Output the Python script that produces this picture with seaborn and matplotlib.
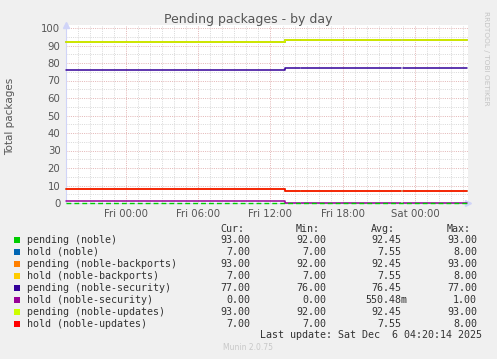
import numpy as np
import pandas as pd
import matplotlib
matplotlib.use("Agg")
import matplotlib.pyplot as plt
import seaborn as sns
from matplotlib.patches import Rectangle
from matplotlib.ticker import MultipleLocator

# hours relative to Fri 00:00 (breakpoints of the step series, NaN = gap)
hours = [-4.98, 13.18, 14.45, 14.55, 22.88, 22.98, 28.32]

labels = ["pending (noble)", "hold (noble)", "pending (noble-backports)",
          "hold (noble-backports)", "pending (noble-security)",
          "hold (noble-security)", "pending (noble-updates)", "hold (noble-updates)"]
colors = ["#00CC00", "#0066B3", "#FF8000", "#FFCC00",
          "#330099", "#990099", "#CCFF00", "#FF0000"]

nan = np.nan
pending_noble = [92, 93, nan, 93, nan, 93, 93]
hold_noble = [8, 7, nan, 7, nan, 7, 7]
pending_backports = [92, 93, nan, 93, nan, 93, 93]
hold_backports = [8, 7, nan, 7, nan, 7, 7]
pending_security = [76, 77, nan, 77, nan, 77, 77]
hold_security = [1, 0, nan, 0, nan, 0, 0]
pending_updates = [92, 93, nan, 93, nan, 93, 93]
hold_updates = [8, 7, nan, 7, nan, 7, 7]
series = [pending_noble, hold_noble, pending_backports, hold_backports,
          pending_security, hold_security, pending_updates, hold_updates]

cur = ["93.00", "7.00", "93.00", "7.00", "77.00", "0.00", "93.00", "7.00"]
mins = ["92.00", "7.00", "92.00", "7.00", "76.00", "0.00", "92.00", "7.00"]
avgs = ["92.45", "7.55", "92.45", "7.55", "76.45", "550.48m", "92.45", "7.55"]
maxs = ["93.00", "8.00", "93.00", "8.00", "77.00", "1.00", "93.00", "8.00"]

tick_hours = [0, 6, 12, 18, 24]
tick_labels = ["Fri 00:00", "Fri 06:00", "Fri 12:00", "Fri 18:00", "Sat 00:00"]


def segments(xs, ys):
    # split a step series at NaN gaps; each run extends to the next breakpoint
    out, cur_x, cur_y = [], [], []
    for x, y in zip(xs, ys):
        if np.isnan(y):
            if cur_x:
                cur_x.append(x)
                cur_y.append(cur_y[-1])
                out.append((cur_x, cur_y))
            cur_x, cur_y = [], []
        else:
            cur_x.append(x)
            cur_y.append(y)
    if cur_x:
        out.append((cur_x, cur_y))
    return out


sns.set_style("white")
plt.rcParams['font.family'] = ['DejaVu Sans']

W, H = 497, 359
fig = plt.figure(figsize=(W / 100, H / 100), dpi=100, facecolor='#f0f0f0')

def fx(px):
    return px / W

def fy(py):
    return 1 - py / H

ax = fig.add_axes([fx(66), fy(203), fx(402), (203 - 25) / H])
ax.set_facecolor('white')

for name, vals, col in zip(labels, series, colors):
    for sx, sy in segments(hours, vals):
        df = pd.DataFrame({'hour': sx, 'value': sy})
        sns.lineplot(data=df, x='hour', y='value', ax=ax, color=col, lw=1.1,
                     drawstyle='steps-post', estimator=None, sort=False,
                     zorder=3, clip_on=False)
ax.axhline(0, color='#00CC00', lw=1.0, linestyle=(0, (3.5, 2.2)), zorder=4,
           clip_on=False)

ax.set_xlim(-4.98, 28.32 + 1 / 12.04)
ax.set_ylim(0, 100 + 3 / 1.75)

ax.yaxis.set_major_locator(MultipleLocator(10))
ax.yaxis.set_minor_locator(MultipleLocator(5))
ax.xaxis.set_minor_locator(MultipleLocator(1))
ax.set_xticks(tick_hours)
ax.set_xticklabels(tick_labels)

ax.grid(which='minor', color='#dadada', linestyle=(0, (1, 1.2)), lw=0.72, zorder=1)
ax.grid(which='major', color='#e4b8b8', linestyle=(0, (1, 1.2)), lw=0.72, zorder=1)
ax.set_axisbelow(True)

ax.tick_params(axis='both', which='major', labelsize=7.3, labelcolor='#555555',
               length=2, color='#e4b8b8', pad=2)
ax.tick_params(axis='both', which='minor', length=0)
ax.set_xlabel("")
ax.set_ylabel("")
fig.text(fx(10), fy(116), "Total packages", rotation=90, ha='center', va='center',
         fontsize=7.5, color='#555555')

for s in ['top', 'right']:
    ax.spines[s].set_visible(False)
for s in ['left', 'bottom']:
    ax.spines[s].set_color('#d0d4f8')
    ax.spines[s].set_linewidth(0.8)

ax.plot(0, 1.0, marker='^', color='#d0d4f8', ms=5, transform=ax.transAxes, clip_on=False)
ax.plot(1.0, 0, marker='>', color='#d0d4f8', ms=5, transform=ax.transAxes, clip_on=False)

fig.text(fx(248), fy(19), "Pending packages - by day", ha='center', va='center',
         fontsize=9, color='#555555')
fig.text(fx(486), fy(58), "RRDTOOL / TOBI OETIKER", ha='center', va='center',
         rotation=270, fontsize=5.3, color='#c4c4c4')

mono = dict(family='DejaVu Sans Mono', fontsize=7.2, color='#333333', va='center')
col_right = [250, 326, 401, 477]
char_w = 6.0
headers = ["Cur:", "Min:", "Avg:", "Max:"]
for h, xr in zip(headers, col_right):
    fig.text(fx(xr - char_w), fy(228.5), h, ha='right', **mono)

row_y = [240 + 12 * i for i in range(len(labels))]
for i, (name, col) in enumerate(zip(labels, colors)):
    y = row_y[i]
    fig.add_artist(Rectangle((fx(14), fy(y + 3)), fx(6), 6 / H, color=col,
                             transform=fig.transFigure, lw=0))
    fig.text(fx(27), fy(y), name, ha='left', **mono)
    for vals, xr in zip([cur, mins, avgs, maxs], col_right):
        v = vals[i]
        shift = char_w if v[-1].isalpha() else 0
        fig.text(fx(xr + shift), fy(y), v, ha='right', **mono)

fig.text(fx(482), fy(335.5), "Last update: Sat Dec  6 04:20:14 2025", ha='right', **mono)
fig.text(fx(248), fy(348), "Munin 2.0.75", ha='center', va='center',
         fontsize=5.5, color='#c8c8c8')

fig.savefig("out.png", dpi=100, facecolor=fig.get_facecolor())
